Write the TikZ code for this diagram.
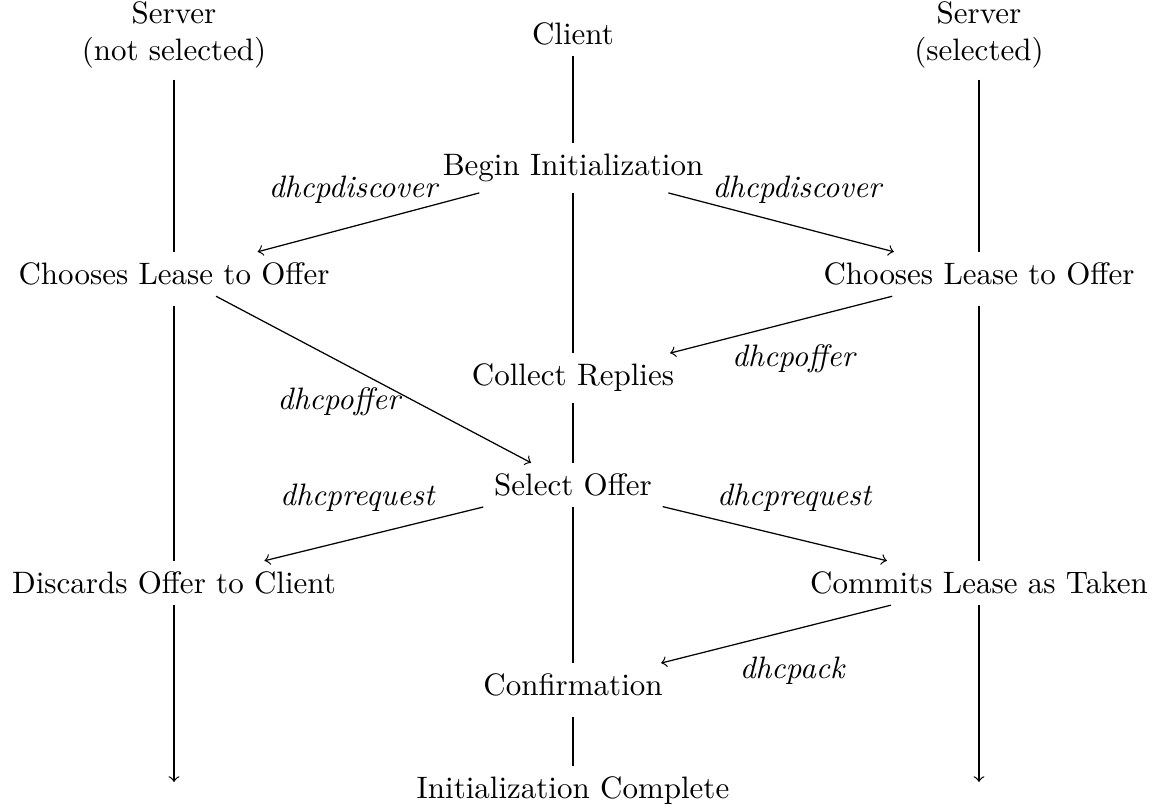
\documentclass[tikz,border=0pt]{standalone}
\usepackage{tikz}
\usetikzlibrary{arrows,positioning}

\begin{document}
\begin{tikzpicture}[msg/.style={->}, lbl/.style={font=\itshape}]
\useasboundingbox (0,0) rectangle (13.13,-9.138);
\node[align=center] (srvn) at (1.973,-0.40) {Server\\(not selected)};
\node (cli) at (6.497,-0.38) {Client};
\node[align=center] (srvs) at (11.100,-0.40) {Server\\(selected)};

\node (begin) at (6.497,-1.905) {Begin Initialization};
\node (choosen) at (1.973,-3.107) {Chooses Lease to Offer};
\node (chooses) at (11.100,-3.107) {Chooses Lease to Offer};
\node (collect) at (6.497,-4.286) {Collect Replies};
\node (select) at (6.497,-5.499) {Select Offer};
\node (discard) at (1.973,-6.61) {Discards Offer to Client};
\node (commit) at (11.100,-6.61) {Commits Lease as Taken};
\node (confirm) at (6.497,-7.77) {Confirmation};
\node (done) at (6.497,-8.968) {Initialization Complete};
\coordinate (endn) at (1.973,-8.866);
\coordinate (ends) at (11.100,-8.866);

% time lines
\draw[shorten <=3pt] (srvn) -- (choosen) -- (discard);
\draw[->] (discard) -- (endn);
\draw[shorten <=3pt] (cli) -- (begin) -- (collect) -- (select) -- (confirm) -- (done);
\draw[shorten <=3pt] (srvs) -- (chooses) -- (commit);
\draw[->] (commit) -- (ends);

% messages
\draw[msg] (begin) -- node[lbl, pos=0.57, above=4pt] {dhcpdiscover} (choosen);
\draw[msg] (begin) -- node[lbl, pos=0.57, above=4pt] {dhcpdiscover} (chooses);
\draw[msg] (chooses) -- node[lbl, pos=0.445, below=4pt] {dhcpoffer} (collect);
\draw[msg] (choosen) -- node[lbl, pos=0.39, below=5pt] {dhcpoffer} (select);
\draw[msg] (select) -- node[lbl, pos=0.576, above=5pt] {dhcprequest} (discard);
\draw[msg] (select) -- node[lbl, pos=0.586, above=5pt] {dhcprequest} (commit);
\draw[msg] (commit) -- node[lbl, pos=0.43, below=5pt] {dhcpack} (confirm);
\end{tikzpicture}
\end{document}
